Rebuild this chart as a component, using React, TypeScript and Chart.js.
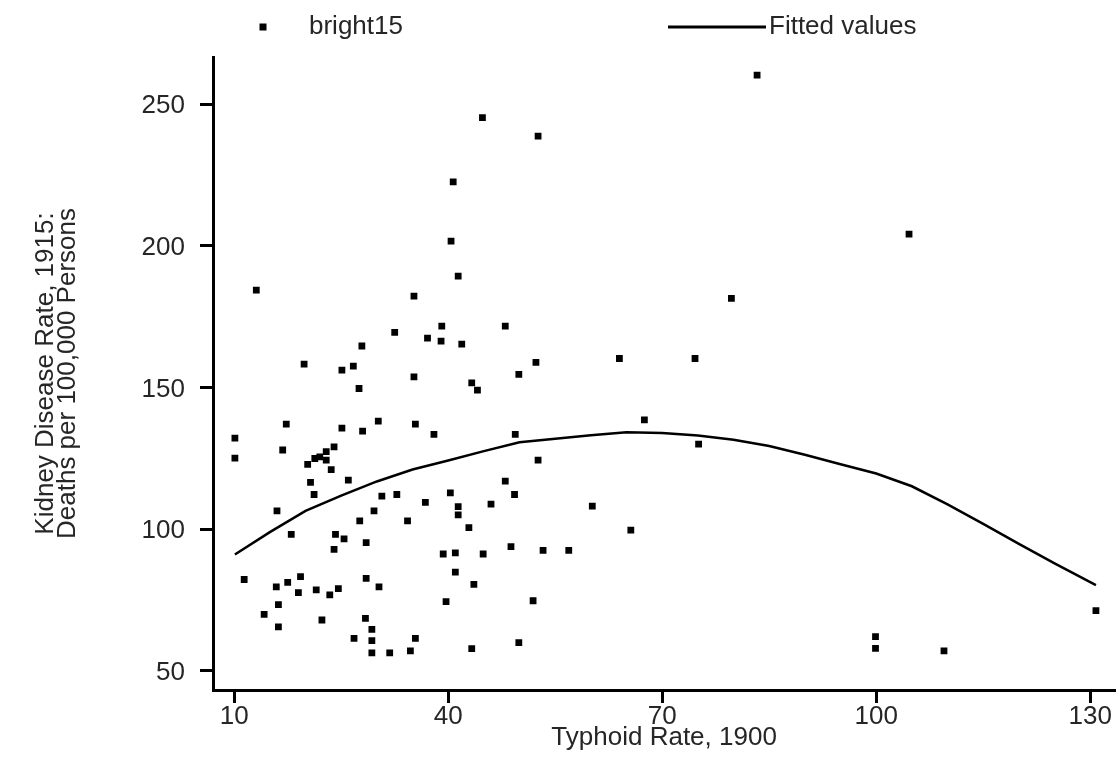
import React, { useEffect, useRef } from "react";
import { Chart, registerables } from "chart.js";

Chart.register(...registerables);

const xTicks = [10, 40, 70, 100, 130];
const yTicks = [50, 100, 150, 200, 250];

const typhoid = [
  44.8, 40.7, 40.4, 41.4, 13.1, 35.2, 39.1, 32.5, 37.1, 39.0, 41.9, 27.9, 19.8, 25.1, 26.7, 35.2,
  27.5, 43.3, 44.1, 17.3, 25.1, 28.0, 30.2, 35.4, 38.0, 10.1, 10.1, 16.8, 20.3, 21.3, 22.0, 22.9,
  22.9, 24.0, 23.6, 20.7, 26.0, 21.2, 30.7, 32.8, 40.3, 36.8, 46.0, 41.4, 41.4, 16.0, 29.6, 27.6,
  34.3, 42.9, 18.0, 24.2, 25.4, 28.5, 24.0, 39.3, 41.0, 44.9, 41.0, 11.4, 19.3, 28.5, 15.9, 17.5,
  19.0, 21.5, 23.4, 24.6, 30.3, 43.6, 16.2, 14.2, 39.7, 22.3, 16.2, 28.4, 29.3, 26.8, 29.3, 35.4,
  29.3, 31.8, 34.7, 43.3, 52.6, 79.7, 48.0, 52.3, 64.0, 74.6, 49.9, 67.5, 49.4, 75.1, 52.6, 48.0,
  49.3, 60.2, 65.6, 48.8, 53.3, 56.9, 51.9, 49.9, 104.6, 83.3, 99.9, 99.9, 109.5, 130.8,
];

const bright15 = [
  245.2, 222.5, 201.6, 189.3, 184.3, 182.2, 171.6, 169.4, 167.4, 166.3, 165.3, 164.6, 158.2, 156.1, 157.5, 153.7,
  149.6, 151.6, 149.0, 137.0, 135.6, 134.6, 138.1, 137.0, 133.4, 132.1, 125.0, 127.9, 122.8, 124.9, 125.5, 127.3,
  124.3, 129.0, 121.0, 116.5, 117.3, 112.2, 111.6, 112.2, 112.8, 109.4, 108.8, 107.9, 105.0, 106.4, 106.4, 102.9,
  102.9, 100.5, 98.1, 98.1, 96.5, 95.2, 92.8, 91.2, 91.6, 91.2, 84.8, 82.2, 83.2, 82.6, 79.6, 81.2,
  77.6, 78.5, 76.8, 79.0, 79.6, 80.5, 73.3, 69.9, 74.4, 67.9, 65.5, 68.5, 64.6, 61.4, 60.6, 61.4,
  56.3, 56.3, 57.0, 57.8, 238.7, 181.4, 171.6, 158.8, 160.2, 160.2, 154.6, 138.5, 133.4, 130.0, 124.3, 116.9,
  112.2, 108.1, 99.6, 93.8, 92.5, 92.5, 74.7, 59.9, 204.1, 260.2, 62.0, 57.9, 57.0, 71.2,
];

const fitX = [10.1, 15, 20, 25, 30, 35, 40, 45, 50, 55, 60, 65, 70, 75, 80, 85, 90, 95, 100, 105, 110, 115, 120, 125, 130.8];
const fitY = [91.0, 98.9, 106.4, 111.8, 116.8, 121.0, 124.2, 127.5, 130.6, 131.9, 133.1, 134.2, 133.9, 133.0, 131.5, 129.3, 126.2, 122.9, 119.6, 115.1, 108.7, 101.8, 94.8, 87.9, 80.2];

const FONT = "'Liberation Sans', Arial, sans-serif";
const TEXT = "#262626";

const legendPlugin = {
  id: "customLegend",
  afterDraw(chart: any) {
    const ctx = chart.ctx;
    ctx.save();
    ctx.fillStyle = "#000";
    ctx.fillRect(263 - 3.5, 27 - 3.5, 7, 7);
    ctx.strokeStyle = "#000";
    ctx.lineWidth = 3;
    ctx.beginPath();
    ctx.moveTo(668, 27);
    ctx.lineTo(766, 27);
    ctx.stroke();
    ctx.fillStyle = TEXT;
    ctx.font = `26px ${FONT}`;
    ctx.textBaseline = "middle";
    ctx.textAlign = "left";
    ctx.fillText(chart.data.datasets[0].label, 309, 27);
    ctx.fillText(chart.data.datasets[1].label, 769, 27);
    ctx.restore();
  },
};

export default function App() {
  const ref = useRef<HTMLCanvasElement | null>(null);

  useEffect(() => {
    if (!ref.current) return;
    const chart = new Chart(ref.current, {
      type: "scatter",
      data: {
        datasets: [
          {
            label: "bright15",
            data: typhoid.map((x, i) => ({ x, y: bright15[i] })),
            pointStyle: "rect",
            pointRadius: 4.8,
            pointBorderWidth: 0,
            backgroundColor: "#000",
            borderColor: "#000",
          },
          {
            label: "Fitted values",
            data: fitX.map((x, i) => ({ x, y: fitY[i] })),
            showLine: true,
            pointRadius: 0,
            borderColor: "#000",
            borderWidth: 2.5,
            tension: 0,
          },
        ],
      },
      options: {
        animation: false,
        responsive: false,
        devicePixelRatio: 1,
        layout: { padding: { top: 57, left: 0, right: 0, bottom: 0 } },
        plugins: { legend: { display: false }, tooltip: { enabled: false } },
        scales: {
          x: {
            type: "linear",
            min: 7.03,
            max: 133.5,
            afterBuildTicks: (axis: any) => {
              axis.ticks = xTicks.map((v) => ({ value: v }));
            },
            afterFit: (axis: any) => {
              axis.height = 69;
            },
            ticks: {
              autoSkip: false,
              maxRotation: 0,
              padding: -2,
              color: TEXT,
              font: { family: FONT, size: 26 },
              callback: (v: any) => String(v),
            },
            grid: {
              display: true,
              drawOnChartArea: false,
              drawTicks: true,
              tickLength: 13,
              tickWidth: 3,
              tickColor: "#000",
            },
            border: { display: true, color: "#000", width: 3 },
            title: {
              display: true,
              text: "Typhoid Rate, 1900",
              color: TEXT,
              font: { family: FONT, size: 26, lineHeight: 1 },
              padding: { top: 0, bottom: 8 },
            },
          },
          y: {
            type: "linear",
            min: 43.2,
            max: 266.6,
            afterBuildTicks: (axis: any) => {
              axis.ticks = yTicks.map((v) => ({ value: v }));
            },
            afterFit: (axis: any) => {
              axis.width = 213;
            },
            ticks: {
              autoSkip: false,
              padding: 15,
              labelOffset: 2,
              color: TEXT,
              font: { family: FONT, size: 26 },
              callback: (v: any) => String(v),
            },
            grid: {
              display: true,
              drawOnChartArea: false,
              drawTicks: true,
              tickLength: 13,
              tickWidth: 3,
              tickColor: "#000",
            },
            border: { display: true, color: "#000", width: 3 },
            title: {
              display: true,
              text: ["Kidney Disease Rate, 1915:", "Deaths per 100,000 Persons"],
              color: TEXT,
              font: { family: FONT, size: 26, lineHeight: 0.85 },
              padding: { top: 35, bottom: 0 },
            },
          },
        },
      },
      plugins: [legendPlugin],
    });
    return () => chart.destroy();
  }, []);

  return (
    <div style={{ position: "absolute", left: 0, top: 0, width: 1120, height: 759, background: "#fff" }}>
      <canvas ref={ref} width={1120} height={759} style={{ width: 1120, height: 759, display: "block" }} />
    </div>
  );
}
